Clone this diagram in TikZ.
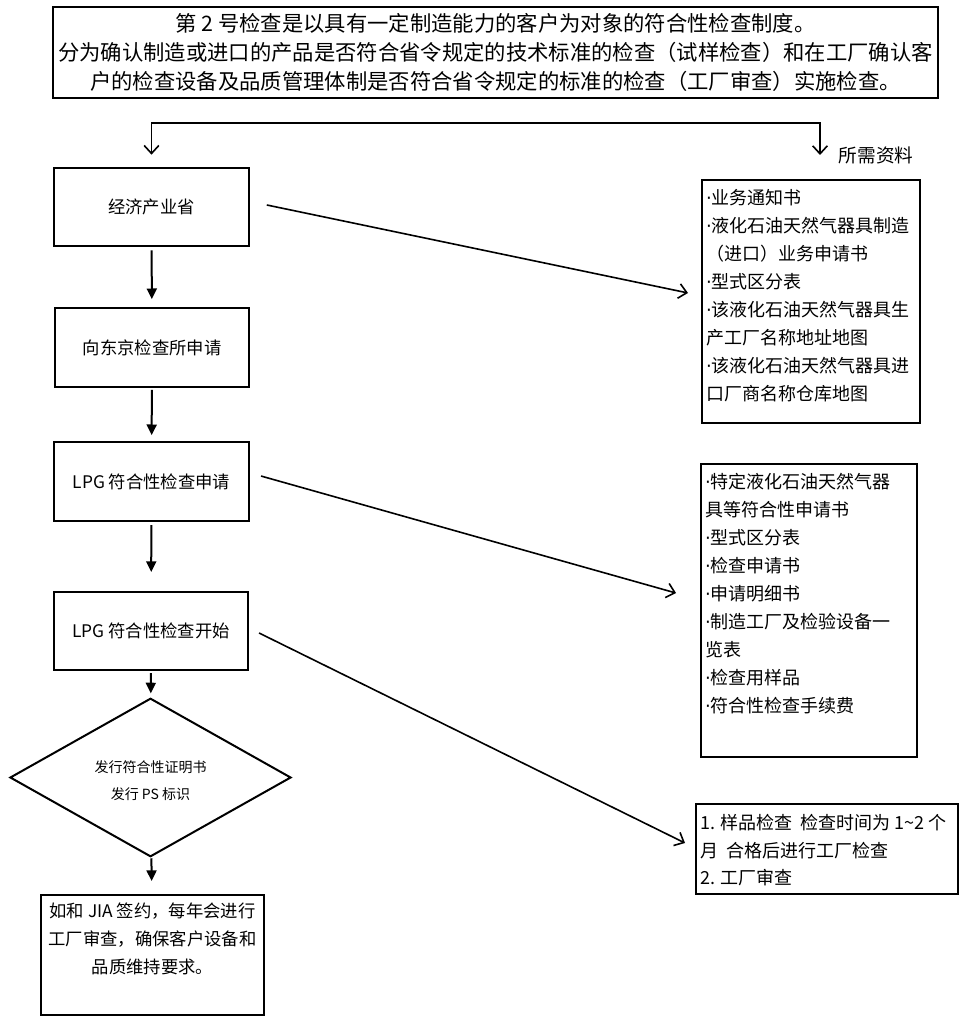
\documentclass[tikz,border=0pt]{standalone}
\usepackage{fontspec}
\setmainfont{Noto Sans CJK SC}
\newfontfamily\dotfont{DejaVu Sans}
\newcommand{\itemdot}{{\dotfont ·}}
\usetikzlibrary{arrows.meta,shapes.geometric}

\tikzset{
  flowbox/.style={draw, line width=1.5pt, minimum width=146pt, minimum height=59pt,
    inner sep=0pt, font=\fontsize{13}{16}\selectfont},
  docbox/.style={draw, line width=1.5pt, anchor=north west, inner xsep=3pt, inner ysep=4pt,
    font=\fontsize{13.5}{21}\selectfont},
  downarrow/.style={line width=1.5pt, -{Triangle[length=8pt,width=7.5pt]}},
  openarrow/.style={line width=1.2pt, -{Straight Barb[length=6pt,width=11pt]}},
}

\begin{document}
\begin{tikzpicture}[x=0.75pt, y=-0.75pt]
    % Canvas of the same size as the original picture
    \useasboundingbox (0,0) rectangle (979,1030);

    % Heading box
    \node[draw, line width=1.5pt, minimum width=663.75pt, minimum height=68.25pt, inner sep=2pt,
          align=center, font=\fontsize{16}{21.75}\selectfont] (intro) at (495.5,52.5)
        {第 2 号检查是以具有一定制造能力的客户为对象的符合性检查制度。\\
         分为确认制造或进口的产品是否符合省令规定的技术标准的检查（试样检查）和在工厂确认客\\
         户的检查设备及品质管理体制是否符合省令规定的标准的检查（工厂审查）实施检查。};

    % Main flow on the left
    \node[flowbox] (meti) at (151.5,207) {经济产业省};
    \node[flowbox] (apply) at (152,347.5) {向东京检查所申请};
    \node[flowbox] (lpgapply) at (151.5,481.5) {LPG 符合性检查申请};
    \node[flowbox] (lpgstart) at (151,631) {LPG 符合性检查开始};
    \node[draw, diamond, line width=1.5pt, minimum width=210.75pt, minimum height=80.25pt,
          inner sep=0pt, align=center, font=\fontsize{10.5}{20}\selectfont] (issue) at (150.5,777.5)
        {\\[-6pt]发行符合性证明书\\发行 PS 标识};
    \node[draw, line width=1.5pt, inner xsep=2pt, inner ysep=2pt, font=\fontsize{13}{21}\selectfont]
        (jia) at (152.5,955)
        {\parbox[c][86pt][t]{163.25pt}{\centering\strut 如和 JIA 签约，每年会进行\\工厂审查，确保客户设备和\\品质维持要求。}};

    % Documents on the right
    \node[font=\fontsize{14}{16}\selectfont] (needs) at (876,155) {所需资料};
    \node[docbox] (docs) at (701,179)
        {\parbox[c][174.25pt][t]{157.5pt}{\strut \itemdot 业务通知书\\\itemdot 液化石油天然气器具制造\\（进口）业务申请书\\\itemdot 型式区分表\\
         \itemdot 该液化石油天然气器具生\\产工厂名称地址地图\\\itemdot 该液化石油天然气器具进\\口厂商名称仓库地图}};
    \node[docbox] (forms) at (700,463)
        {\parbox[c][211.75pt][t]{156pt}{\strut \itemdot 特定液化石油天然气器\\具等符合性申请书\\\itemdot 型式区分表\\\itemdot 检查申请书\\\itemdot 申请明细书\\
         \itemdot 制造工厂及检验设备一\\览表\\\itemdot 检查用样品\\\itemdot 符合性检查手续费}};
    \node[docbox, inner ysep=5pt, font=\fontsize{13.5}{20.6}\selectfont] (review) at (695,803)
        {\parbox[c][57.5pt][t]{190.5pt}{\strut 1. 样品检查\ \ 检查时间为 1\textasciitilde 2 个\\月\ \ 合格后进行工厂检查\\2. 工厂审查}};

    % Split arrow above the flow
    \coordinate (splitR) at (820,123);
    \coordinate (splitEnd) at (820,155);
    \draw[line width=1.2pt, {Straight Barb[length=6pt,width=11pt]}-{Straight Barb[length=6pt,width=11pt]}]
        (splitEnd) -- (splitR) -| ([yshift=9pt]meti.north);

    % Steps downwards
    \foreach \a/\b/\s/\e in {meti/apply/2.25/6, apply/lpgapply/1.5/4.5, lpgapply/lpgstart/2.4/14,
                             lpgstart/issue/1.3/3, issue/jia/0.75/9.75} {
        \draw[downarrow, shorten <=\s pt, shorten >=\e pt] (\a) -- (\b);
    }

    % Links to the documents
    \draw[openarrow] ([xshift=12.75pt,yshift=1.5pt]meti.east) -- ([xshift=-9.75pt,yshift=6.4pt]docs.west);
    \draw[openarrow] ([xshift=8.4pt,yshift=4.1pt]lpgapply.east) -- ([xshift=-18pt,yshift=13.1pt]forms.west);
    \draw[openarrow] ([xshift=7.3pt,yshift=-1.5pt]lpgstart.east) -- ([xshift=-7.5pt,yshift=4.5pt]review.west);
\end{tikzpicture}
\end{document}
